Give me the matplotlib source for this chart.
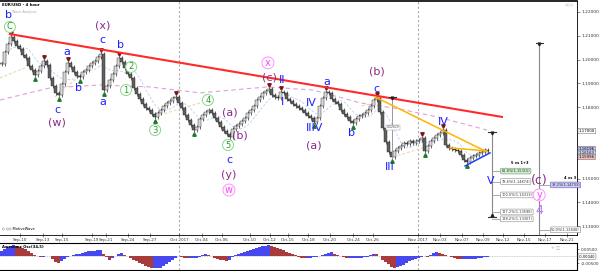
import numpy as np
import pandas as pd
import matplotlib
matplotlib.use("Agg")
import matplotlib.pyplot as plt

# 4h closes, EUR/USD (one value per ~3px)
closes = [
    1.1981, 1.2032, 1.2065, 1.2095, 1.2078, 1.2057, 1.2044, 1.2019, 1.2007, 1.1973,
    1.1956, 1.1935, 1.1952, 1.1973, 1.1994, 1.1977, 1.1923, 1.1889, 1.1860, 1.1851,
    1.1897, 1.1948, 1.1986, 1.1969, 1.1948, 1.1931, 1.1927, 1.1948, 1.1956, 1.1973,
    1.1986, 1.1994, 1.2011, 1.2023, 1.1872, 1.1889, 1.1914, 1.1939, 1.1973, 1.2007,
    1.1990, 1.1965, 1.1939, 1.1923, 1.1881, 1.1855, 1.1834, 1.1813, 1.1797, 1.1788,
    1.1771, 1.1759, 1.1776, 1.1788, 1.1805, 1.1818, 1.1826, 1.1839, 1.1843, 1.1818,
    1.1797, 1.1767, 1.1746, 1.1725, 1.1704, 1.1717, 1.1750, 1.1767, 1.1780, 1.1788,
    1.1776, 1.1755, 1.1738, 1.1717, 1.1700, 1.1687, 1.1675, 1.1708, 1.1721, 1.1729,
    1.1742, 1.1755, 1.1776, 1.1788, 1.1805, 1.1830, 1.1843, 1.1860, 1.1868, 1.1876,
    1.1851, 1.1843, 1.1839, 1.1864, 1.1860, 1.1834, 1.1826, 1.1813, 1.1805, 1.1797,
    1.1788, 1.1776, 1.1763, 1.1755, 1.1738, 1.1755, 1.1805, 1.1839, 1.1864, 1.1860,
    1.1834, 1.1822, 1.1813, 1.1788, 1.1771, 1.1759, 1.1742, 1.1734, 1.1750, 1.1763,
    1.1767, 1.1776, 1.1788, 1.1805, 1.1830, 1.1839, 1.1780, 1.1713, 1.1654, 1.1612,
    1.1591, 1.1616, 1.1629, 1.1637, 1.1650, 1.1645, 1.1658, 1.1650, 1.1658, 1.1662,
    1.1671, 1.1616, 1.1637, 1.1658, 1.1671, 1.1683, 1.1692, 1.1704, 1.1641, 1.1629,
    1.1624, 1.1620, 1.1616, 1.1599, 1.1578, 1.1570, 1.1587, 1.1595, 1.1599, 1.1608,
    1.1612, 1.1620, 1.1616,
]

# Awesome Osc(34,5), in thousandths
ao_milli = [
    3.9, 5.0, 6.3, 7.1, 7.9, 7.1, 6.5, 5.6, 4.7, 3.6,
    2.1, 0.9, 0.0, -0.6, -0.5, -0.3, 0.0, -2.1, -4.4, -5.3,
    -3.9, -2.1, -0.9, 0.1, 0.6, 1.1, 1.7, 2.2, 2.8, 3.3,
    3.7, 3.9, 4.1, 4.3, 1.1, -0.9, -2.6, -1.3, 0.1, 1.3,
    1.9, 0.9, 0.0, -1.4, -2.5, -3.6, -4.9, -5.7, -7.0, -8.1,
    -8.6, -8.6, -8.6, -8.4, -7.1, -5.7, -4.3, -2.9, -1.3, 0.0,
    -0.5, -1.1, -1.4, -1.4, -1.4, -1.4, -0.4, 0.4, 1.1, 0.6,
    -0.1, -1.4, -2.1, -2.6, -3.0, -3.6, -2.5, -0.4, 0.6, 1.3,
    2.1, 2.7, 3.6, 4.1, 4.9, 5.5, 6.1, 6.9, 7.4, 7.9,
    7.5, 6.6, 5.9, 5.0, 4.3, 3.2, 2.3, 1.4, 0.4, -0.4,
    -1.1, -1.6, -1.4, -1.2, -1.0, -0.7, -0.1, 0.6, 1.6, 2.4,
    2.6, 1.7, 0.7, 0.0, -0.7, -1.4, -1.4, -1.4, -1.4, -1.4,
    -1.3, -1.0, -0.6, 0.7, 1.7, 1.4, 0.2, -2.6, -4.3, -6.0,
    -7.9, -8.4, -7.8, -7.1, -6.1, -5.0, -3.8, -2.9, -2.1, -1.4,
    -0.4, -0.3, -0.7, 0.9, 1.8, 2.6, 2.1, 1.4, 0.6, -0.1,
    -0.7, -1.4, -1.8, -2.1, -2.1, -2.1, -2.1, -2.0, -1.9, -1.6,
    -1.3, -0.7, -0.4,
]

date_ticks = [6.2, 13.8, 20.2, 30.2, 34.8, 42.2, 49.5, 59.2, 66.8, 73.5, 82.8, 89.5, 95.5,
              102.2, 109.5, 117.2, 123.8, 138.8, 146.2, 153.5, 160.5, 167.2, 174.2, 181.2, 188.5]
date_labels = ["Sep-10", "Sep-13", "Sep-15", "Sep-19", "Sep-21", "Sep-24", "Sep-27", "Oct 2017",
               "Oct-04", "Oct-06", "Oct-10", "Oct-12", "Oct-15", "Oct-18", "Oct-20", "Oct-24",
               "Oct-26", "Nov 2017", "Nov-03", "Nov-07", "Nov-09", "Nov-12", "Nov-15", "Nov-17", "Nov-21"]
period_lines = [59.2, 138.8]

swing_highs = [3, 14, 22, 33, 39, 58, 89, 93, 108, 125, 140, 147]
swing_lows = [11, 19, 26, 34, 51, 64, 76, 104, 117, 130, 141, 155]

# slow moving average (pink dashed)
ma_slow_bars = [-0.5, 16.2, 32.8, 49.5, 66.2, 88.5, 103.8, 119.5, 132.8, 145.2, 161.8]
ma_slow_vals = [1.1830, 1.1881, 1.1893, 1.1885, 1.1860, 1.1885, 1.1872, 1.1818, 1.1792, 1.1759, 1.1704]

# beige dashed channel segments (bar0, price0, bar1, price1)
beige_segments = [
    (-0.5, 1.1923, 7.8, 1.1965),
    (17.8, 1.1843, 33.5, 1.2011),
    (52.8, 1.1767, 66.2, 1.1818),
    (120.0, 1.1805, 124.5, 1.1818),
    (130.5, 1.1591, 140.5, 1.1629),
]

price_ticks = [1.13, 1.14, 1.15, 1.18, 1.19, 1.20, 1.21, 1.22]

fib_a_names = ["61.8%", "78.6%", "100.0%", "127.2%", "138.2%"]
fib_a_levels = [1.15315, 1.14874, 1.14313, 1.13598, 1.13307]
fib_b_names = ["38.2%", "50.0%"]
fib_b_levels = [1.14733, 1.12848]

# wave labels: text, bar, price, style
wave_labels = [
    ("b", 2.2, 1.2187, "blue"), ("C", 2.8, 1.2137, "green"), ("(x)", 33.8, 1.2145, "purple"),
    ("c", 33.5, 1.2082, "blue"), ("b", 39.5, 1.2061, "blue"), ("a", 21.8, 1.2032, "blue"),
    ("2", 43.2, 1.1969, "green"), ("1", 41.5, 1.1872, "green"), ("b", 25.5, 1.1881, "blue"),
    ("a", 33.8, 1.1822, "blue"), ("c", 18.5, 1.1788, "blue"), ("(w)", 18.5, 1.1734, "purple"),
    ("3", 51.2, 1.1704, "green"), ("4", 68.8, 1.1830, "green"), ("(a)", 76.2, 1.1776, "purple"),
    ("(b)", 79.5, 1.1683, "purple"), ("5", 75.5, 1.1641, "green"), ("c", 75.8, 1.1578, "blue"),
    ("(y)", 75.8, 1.1515, "purple"), ("w", 75.8, 1.1452, "pink"), ("x", 88.8, 1.1986, "pink"),
    ("(c)", 89.2, 1.1923, "purple"), ("II", 93.5, 1.1914, "blue"), ("I", 93.5, 1.1822, "blue"),
    ("IV", 103.2, 1.1818, "blue"), ("IIIV", 104.2, 1.1713, "blue"), ("(a)", 104.2, 1.1641, "purple"),
    ("a", 108.5, 1.1906, "blue"), ("b", 116.8, 1.1692, "blue"), ("(b)", 125.2, 1.1948, "purple"),
    ("c", 124.8, 1.1876, "blue"), ("III", 129.5, 1.1549, "blue"), ("IV", 147.2, 1.1738, "blue"),
    ("V", 163.2, 1.1490, "blue"), ("(c)", 179.2, 1.1490, "purple"), ("y", 179.2, 1.1431, "pink"),
    ("4", 179.2, 1.1368, "lav"),
]

BLUE = "#1f1fff"
PURPLE = "#8b2a8b"

fig = plt.figure(figsize=(6, 2.71), dpi=100)
ax = fig.add_axes([0, 36 / 271, 577 / 600, 234 / 271])
osc = fig.add_axes([0, 1 / 271, 577 / 600, 27 / 271])

n = len(closes)
x = np.arange(n)
c = np.array(closes)
o = np.r_[c[0], c[:-1]]
wick = 0.0007
hi = np.maximum(o, c) + wick
lo = np.minimum(o, c) - wick

for xv in period_lines:
    ax.axvline(xv, color="#aaaaaa", lw=0.8, ls=(0, (2, 2)), zorder=0)
    osc.axvline(xv, color="#aaaaaa", lw=0.8, ls=(0, (2, 2)), zorder=0)

# moving averages and channel pieces
ax.plot(ma_slow_bars, ma_slow_vals, color="#dda0dd", lw=0.8, ls=(0, (4, 3)), zorder=1)
fast = pd.Series(closes).rolling(8, min_periods=1).mean()
ax.plot(x, fast, color="#b4d0f4", lw=0.6, ls=(0, (3, 2)), zorder=1)
for b0, p0, b1, p1 in beige_segments:
    ax.plot([b0, b1], [p0, p1], color="#e6d6a0", lw=0.7, ls=(0, (3, 2)), zorder=1)

# candles
ax.vlines(x, lo, hi, color="#303030", lw=0.5, zorder=2)
up = c >= o
ax.bar(x, np.maximum(np.abs(c - o), 0.00025), bottom=np.minimum(o, c), width=0.75,
       color=np.where(up, "#d8d8d8", "#606060"), edgecolor="#202020", linewidth=0.3, zorder=3)

ax.plot(swing_highs, hi[swing_highs] + 0.0009, "v", color="#7a1a1a", ms=2.5, zorder=4)
ax.plot(swing_lows, lo[swing_lows] - 0.0009, "^", color="#1d7a2e", ms=2.5, zorder=4)

# trend lines
ax.plot([2.8, 166.8], [1.2107, 1.1759], color="#ff2a2a", lw=1.5, zorder=5)
ax.plot([124.5, 161.8], [1.1843, 1.1612], color="#ffb400", lw=1.1, zorder=5)
ax.plot([149.5, 161.8], [1.1629, 1.1616], color="#ffb400", lw=1.1, zorder=5)
ax.plot([154.5, 162.8], [1.1553, 1.1608], color="#2040ff", lw=1.1, zorder=5)

# measuring lines
ax.plot([130.2, 130.2], [1.1843, 1.1587], color="#999999", lw=0.7, zorder=4)
ax.text(130.4, 1.1715, "0.02629", fontsize=2.2, ha="center", va="center", color="#444",
        bbox=dict(boxstyle="square,pad=0.2", fc="white", ec="#999", lw=0.3), zorder=6)
ax.plot([163.5, 163.5], [1.1696, 1.1339], color="#888888", lw=0.8, zorder=4)
ax.plot([179.2, 179.2], [1.2070, 1.1262], color="#888888", lw=0.8, zorder=4)
for bx, top in [(163.5, 1.1696), (179.2, 1.2070), (130.2, 1.1843)]:
    ax.plot([bx - 1.2, bx + 1.2], [top, top], color="#333", lw=0.8, zorder=6)
    ax.plot(bx, top - 0.0006, "v", color="#222", ms=2, zorder=6)
ax.plot([163.5 - 1.2, 163.5 + 1.2], [1.1339, 1.1339], color="#333", lw=0.8, zorder=6)
ax.plot(163.5, 1.1345, "^", color="#222", ms=2, zorder=6)

ax.text(175.5, 1.1566, "5 vs 1+3", fontsize=2.6, ha="right", va="center", fontweight="bold")
for i, (nm, lv) in enumerate(zip(fib_a_names, fib_a_levels)):
    ax.plot([163.5, 166.2], [lv, lv], color="#888", lw=0.5, zorder=4)
    ax.text(166.6, lv, f"{nm}({lv:.5f})", fontsize=2.5, ha="left", va="center", color="#333",
            bbox=dict(boxstyle="round,pad=0.25", fc="#c8f0c8" if i == 0 else "white",
                      ec="#888", lw=0.4), zorder=6)
ax.text(191.5, 1.1503, "4 vs 3", fontsize=2.6, ha="right", va="center", fontweight="bold")
for i, (nm, lv) in enumerate(zip(fib_b_names, fib_b_levels)):
    ax.plot([179.2, 182.8], [lv, lv], color="#888", lw=0.5, zorder=4)
    ax.text(183.2, lv, f"{nm}({lv:.5f})", fontsize=2.5, ha="left", va="center", color="#333",
            bbox=dict(boxstyle="round,pad=0.25", fc="#c8c8f0" if i == 0 else "white",
                      ec="#6060c0" if i == 0 else "#888", lw=0.4), zorder=6)

# wave labels
for txt, bx, py, kind in wave_labels:
    if kind == "blue":
        ax.text(bx, py, txt, color=BLUE, fontsize=8, ha="center", va="center", zorder=7)
    elif kind == "purple":
        fs = 9 if bx > 170 else 8
        ax.text(bx, py, txt, color=PURPLE, fontsize=fs, ha="center", va="center", zorder=7)
    elif kind == "green":
        ax.text(bx, py, txt, color="#2a9a2a", fontsize=6, ha="center", va="center", zorder=7,
                bbox=dict(boxstyle="circle,pad=0.12", fc="white", ec="#88d888", lw=0.7))
    elif kind == "pink":
        ax.text(bx, py, txt, color="#ff40ff", fontsize=7, ha="center", va="center", zorder=7,
                bbox=dict(boxstyle="circle,pad=0.1", fc="white", ec="#ff90ff", lw=0.7))
    else:
        ax.text(bx, py, txt, color="#b47cff", fontsize=9, ha="center", va="center", zorder=7)

ax.text(0.004, 0.992, "EUR/USD - 4 hour", transform=ax.transAxes, fontsize=2.8,
        fontweight="bold", va="top")
ax.text(0.02, 0.962, "Wave Analysis", transform=ax.transAxes, fontsize=2.4, color="#aaaaaa", va="top")
ax.text(0.004, 0.02, "◇ ◇◇ MotiveWave", transform=ax.transAxes, fontsize=2.6, va="bottom")
ax.text(0.995, 0.99, "◇◇◇", transform=ax.transAxes, fontsize=3, color="#999", ha="right", va="top")

ax.set_xlim(-0.5, 191.8)
ax.set_ylim(1.1263, 1.2246)
ax.yaxis.tick_right()
ax.set_yticks(price_ticks)
ax.set_yticklabels([f"{t:.5f}" for t in price_ticks])
ax.set_yticks(np.arange(1.128, 1.224, 0.002), minor=True)
ax.tick_params(axis="y", which="major", labelsize=3.2, length=2, width=0.4, pad=1.2, colors="#333")
ax.tick_params(axis="y", which="minor", length=1, width=0.3)
ax.set_xticks(date_ticks)
ax.set_xticklabels(date_labels)
ax.tick_params(axis="x", labelsize=3, length=2.5, width=0.4, pad=1, direction="inout", colors="#333")

# current price tags on the right axis
for pv, txt, fc in [(1.1700, "1.17000", "white"), (1.1624, "1.16196", "#c0c0f0"),
                    (1.1608, "1.16163", "#c8d8f8"), (1.1591, "1.15996", "#f0c0c0")]:
    ax.text(1.003, pv, txt, transform=ax.get_yaxis_transform(), fontsize=2.8, va="center",
            ha="left", bbox=dict(boxstyle="round,pad=0.2", fc=fc, ec="#555", lw=0.3), clip_on=False)

ax.spines["left"].set_visible(False)
ax.spines["top"].set_linewidth(1.2)
ax.spines["right"].set_linewidth(0.6)
ax.spines["bottom"].set_linewidth(0.6)

# oscillator
ao = np.array(ao_milli) / 1000.0
rising = np.r_[True, ao[1:] >= ao[:-1]]
osc.bar(x, ao, width=0.8, color=np.where(rising, "#4848f0", "#a83c3c"), linewidth=0, zorder=2)
osc.axhline(0, color="#bbbbbb", lw=0.6, ls=(0, (1, 1)), zorder=1)
osc.set_xlim(-0.5, 191.8)
osc.set_ylim(-0.0100, 0.0093)
osc.yaxis.tick_right()
osc.set_yticks([0.005, -0.005])
osc.set_yticklabels(["0.00500", "-0.00500"])
osc.tick_params(axis="y", labelsize=3, length=1.5, width=0.4, pad=1.2, colors="#333")
osc.set_xticks([])
osc.spines["left"].set_visible(False)
osc.text(0.004, 0.95, "Awesome Osc(34,5)", transform=osc.transAxes, fontsize=2.7,
         fontweight="bold", va="top")
osc.text(1.003, ao[-1], f"{ao[-1]:.5f}", transform=osc.get_yaxis_transform(), fontsize=2.6,
         va="center", ha="left", bbox=dict(boxstyle="round,pad=0.2", fc="white", ec="#555", lw=0.3),
         clip_on=False)
osc.text(0.955, 0.92, "☆ □", transform=osc.transAxes, fontsize=3, color="#999", va="top")

fig.savefig("out.png", dpi=100)
